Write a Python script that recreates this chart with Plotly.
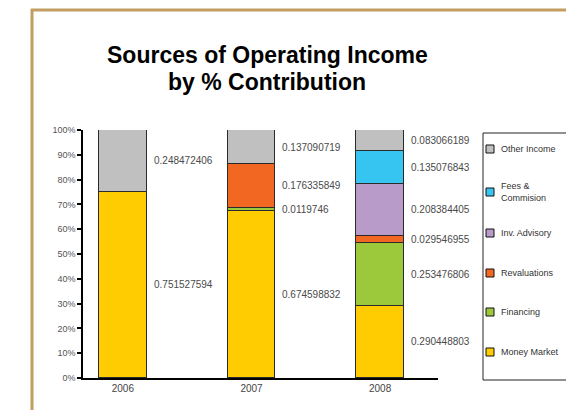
import plotly.graph_objects as go

years = ["2006", "2007", "2008"]
series_names = ["Money Market", "Financing", "Revaluations", "Inv. Advisory", "Fees & Commision", "Other Income"]
money_market = [0.751527594, 0.674598832, 0.290448803]
financing = [None, 0.0119746, 0.253476806]
revaluations = [None, 0.176335849, 0.029546955]
inv_advisory = [None, None, 0.208384405]
fees_commision = [None, None, 0.135076843]
other_income = [0.248472406, 0.137090719, 0.083066189]
colors = ["#FECC00", "#9BC93B", "#F26722", "#B89BC9", "#35C5F0", "#C0C0C0"]
y_ticks = [i / 10 for i in range(11)]
y_tick_labels = [f"{i*10}%" for i in range(11)]
title_lines = ["Sources of Operating Income", "by % Contribution"]

series_values = [money_market, financing, revaluations, inv_advisory, fees_commision, other_income]

W, H = 566, 410
L, R, T, B = 83, 438, 130, 378
BAR_W = 0.37
FONT = "Liberation Sans, Arial, Helvetica, sans-serif"


def px(x):
    return (x - L) / (R - L)


def py(y):
    return (B - y) / (B - T)


fig = go.Figure()
xs = list(range(len(years)))
for name, vals, col in zip(series_names, series_values, colors):
    fig.add_trace(go.Bar(
        x=xs, y=[v if v is not None else 0 for v in vals], name=name,
        marker=dict(color=col, line=dict(color="#2a2a2a", width=1)),
        width=BAR_W, showlegend=False,
    ))

annotations = []
# value labels at segment midpoints
for i in xs:
    base = 0.0
    for vals in series_values:
        v = vals[i]
        if v is None:
            continue
        annotations.append(dict(
            x=i + BAR_W / 2, y=base + v / 2, xref="x", yref="y",
            text=str(v), showarrow=False, xanchor="left", yanchor="middle",
            xshift=5, font=dict(family=FONT, size=10, color="#4a4a4a"),
        ))
        base += v

# title (two lines placed separately)
for line, ty in zip(title_lines, [55, 82]):
    annotations.append(dict(
        x=px(267), y=py(ty), xref="paper", yref="paper",
        text=f"<b>{line}</b>",
        showarrow=False, xanchor="center", yanchor="middle",
        font=dict(family=FONT, size=23, color="#000000"),
    ))

shapes = []
# border frame
shapes.append(dict(type="line", xref="paper", yref="paper",
                   x0=px(31), x1=px(600), y0=py(10), y1=py(10),
                   line=dict(color="#C29E62", width=3)))
shapes.append(dict(type="line", xref="paper", yref="paper",
                   x0=px(32), x1=px(32), y0=py(9), y1=py(430),
                   line=dict(color="#C29E62", width=3)))
# legend box
shapes.append(dict(type="rect", xref="paper", yref="paper",
                   x0=px(483), x1=px(600), y0=py(133), y1=py(380),
                   line=dict(color="#222222", width=1), fillcolor="rgba(0,0,0,0)"))
legend_y = [352, 312, 273, 233, 192, 149]
legend_labels = ["Money Market", "Financing", "Revaluations", "Inv. Advisory", "Fees &<br>Commision", "Other Income"]
for lab, col, ly in zip(legend_labels, colors, legend_y):
    shapes.append(dict(type="rect", xref="paper", yref="paper",
                       x0=px(486), x1=px(494), y0=py(ly - 4), y1=py(ly + 4),
                       line=dict(color="#111111", width=1), fillcolor=col))
    annotations.append(dict(
        x=px(499), y=py(ly), xref="paper", yref="paper", text=lab,
        showarrow=False, xanchor="left", yanchor="middle", align="left",
        font=dict(family=FONT, size=9, color="#333333"),
    ))

fig.update_layout(
    width=W, height=H, barmode="stack",
    margin=dict(l=L, r=W - R, t=T, b=H - B, pad=0),
    paper_bgcolor="white", plot_bgcolor="white",
    annotations=annotations, shapes=shapes, showlegend=False,
    bargap=0,
)
fig.update_xaxes(
    tickvals=xs, ticktext=years, range=[-0.31, 2.45],
    showline=True, linecolor="#000000", linewidth=1.5,
    ticks="", showgrid=False, zeroline=False,
    tickfont=dict(family=FONT, size=10, color="#444444"),
)
fig.update_yaxes(
    range=[0, 1], tickvals=y_ticks, ticktext=y_tick_labels,
    showline=True, linecolor="#000000", linewidth=1.5,
    ticks="outside", ticklen=4, tickcolor="#000000", tickwidth=1.5,
    showgrid=False, zeroline=False,
    tickfont=dict(family=FONT, size=9, color="#555555"),
)

fig.write_html("out.html")
